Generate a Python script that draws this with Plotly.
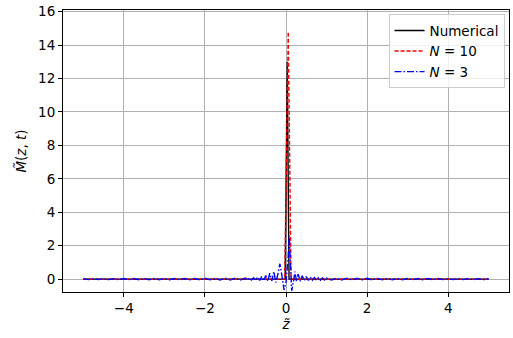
import plotly.graph_objects as go

# Numerical solution (sharp peak just right of the origin)
z_num = [-5.0, -2.5, -0.5, -0.02, 0.03, 0.075, 0.5, 2.5, 5.0]
m_num = [0.0, 0.0, 0.0, 0.0, 13.0, 0.0, 0.0, 0.0, 0.0]

# Series expansion with N = 10 terms
z_n10 = [-5.0, -2.5, -0.5, -0.03, 0.055, 0.125, 0.5, 2.5, 5.0]
m_n10 = [0.0, 0.0, 0.0, 0.0, 14.8, 0.0, 0.0, 0.0, 0.0]

# Series expansion with N = 3 terms (oscillating tails)
z_n3 = [
    -5.0, -4.875, -4.75, -4.625, -4.5, -4.375, -4.25, -4.125,
    -4.0, -3.875, -3.75, -3.625, -3.5, -3.375, -3.25, -3.125,
    -3.0, -2.875, -2.75, -2.625, -2.5, -2.375, -2.25, -2.125,
    -2.0, -1.875, -1.75, -1.625, -1.5, -1.375, -1.25, -1.125,
    -1.0, -0.95, -0.9, -0.85, -0.8, -0.75, -0.7, -0.65, -0.6, -0.55,
    -0.5, -0.45, -0.4, -0.35, -0.3, -0.25, -0.2, -0.15, -0.1, -0.05,
    0.0, 0.05, 0.08, 0.11, 0.14, 0.18, 0.22, 0.26, 0.3, 0.35,
    0.4, 0.45, 0.5, 0.55, 0.6, 0.65, 0.7, 0.75, 0.8, 0.85, 0.9, 0.95,
    1.0, 1.125, 1.25, 1.375, 1.5, 1.625, 1.75, 1.875,
    2.0, 2.125, 2.25, 2.375, 2.5, 2.625, 2.75, 2.875,
    3.0, 3.125, 3.25, 3.375, 3.5, 3.625, 3.75, 3.875,
    4.0, 4.125, 4.25, 4.375, 4.5, 4.625, 4.75, 4.875, 5.0,
]
m_n3 = [
    0.03, -0.03, 0.03, -0.03, 0.03, -0.03, 0.03, -0.03,
    0.035, -0.03, 0.035, -0.035, 0.035, -0.035, 0.04, -0.035,
    0.04, -0.04, 0.04, -0.04, 0.045, -0.04, 0.045, -0.045,
    0.05, -0.045, 0.05, -0.05, 0.055, -0.05, 0.06, -0.055,
    0.06, -0.05, 0.07, -0.05, 0.08, -0.06, 0.12, -0.08, 0.15, -0.1,
    0.22, -0.12, 0.35, -0.1, 0.45, -0.2, 0.3, 0.92, 0.2, -0.65,
    -0.2, 1.2, 2.6, 0.5, -0.7, -0.2, 0.45, -0.15, 0.3, -0.12,
    0.2, -0.1, 0.15, -0.08, 0.12, -0.07, 0.1, -0.06, 0.08, -0.06, 0.07, -0.05,
    0.06, -0.055, 0.06, -0.05, 0.055, -0.05, 0.05, -0.045,
    0.05, -0.045, 0.045, -0.04, 0.045, -0.04, 0.04, -0.04,
    0.04, -0.035, 0.04, -0.035, 0.035, -0.035, 0.035, -0.03,
    0.035, -0.03, 0.03, -0.03, 0.03, -0.03, 0.03, -0.03, 0.03,
]

x_ticks = [-4, -2, 0, 2, 4]
y_ticks = [0, 2, 4, 6, 8, 10, 12, 14, 16]

font = dict(family="DejaVu Sans", size=13.5, color="black")

fig = go.Figure()
fig.add_trace(go.Scatter(x=z_num, y=m_num, mode="lines", name="Numerical",
                         line=dict(color="black", width=1.4)))
fig.add_trace(go.Scatter(x=z_n10, y=m_n10, mode="lines", name="<i>N</i> = 10",
                         line=dict(color="red", width=1.4, dash="4px,2px")))
fig.add_trace(go.Scatter(x=z_n3, y=m_n3, mode="lines", name="<i>N</i> = 3",
                         line=dict(color="blue", width=1.4, dash="7px,2px,1.5px,2px")))

axis_common = dict(
    showgrid=True, gridcolor="#b0b0b0", gridwidth=1,
    showline=True, linecolor="black", linewidth=1, mirror=True,
    ticks="outside", ticklen=4, tickwidth=1, tickcolor="black",
    zeroline=False, tickfont=font, ticklabeloverflow="allow",
)

fig.update_layout(
    width=513, height=338,
    margin=dict(l=63, r=3, t=4, b=46),
    paper_bgcolor="white", plot_bgcolor="white",
    font=font,
    showlegend=True,
    legend=dict(
        x=0.99, y=0.985, xanchor="right", yanchor="top",
        bgcolor="rgba(255,255,255,0.8)", bordercolor="#cccccc", borderwidth=1,
        font=dict(family="DejaVu Sans", size=13.5, color="black"),
        tracegroupgap=0, itemwidth=30,
    ),
    xaxis=dict(axis_common, range=[-5.5, 5.5], tickvals=x_ticks,
               title=dict(text="<i>z̃</i>", standoff=4, font=font)),
    yaxis=dict(axis_common, range=[-0.77, 16.1], tickvals=y_ticks,
               title=dict(text="<i>M̃</i>(<i>z</i>, <i>t</i>)", standoff=8, font=font)),
)

fig.write_html("out.html")
